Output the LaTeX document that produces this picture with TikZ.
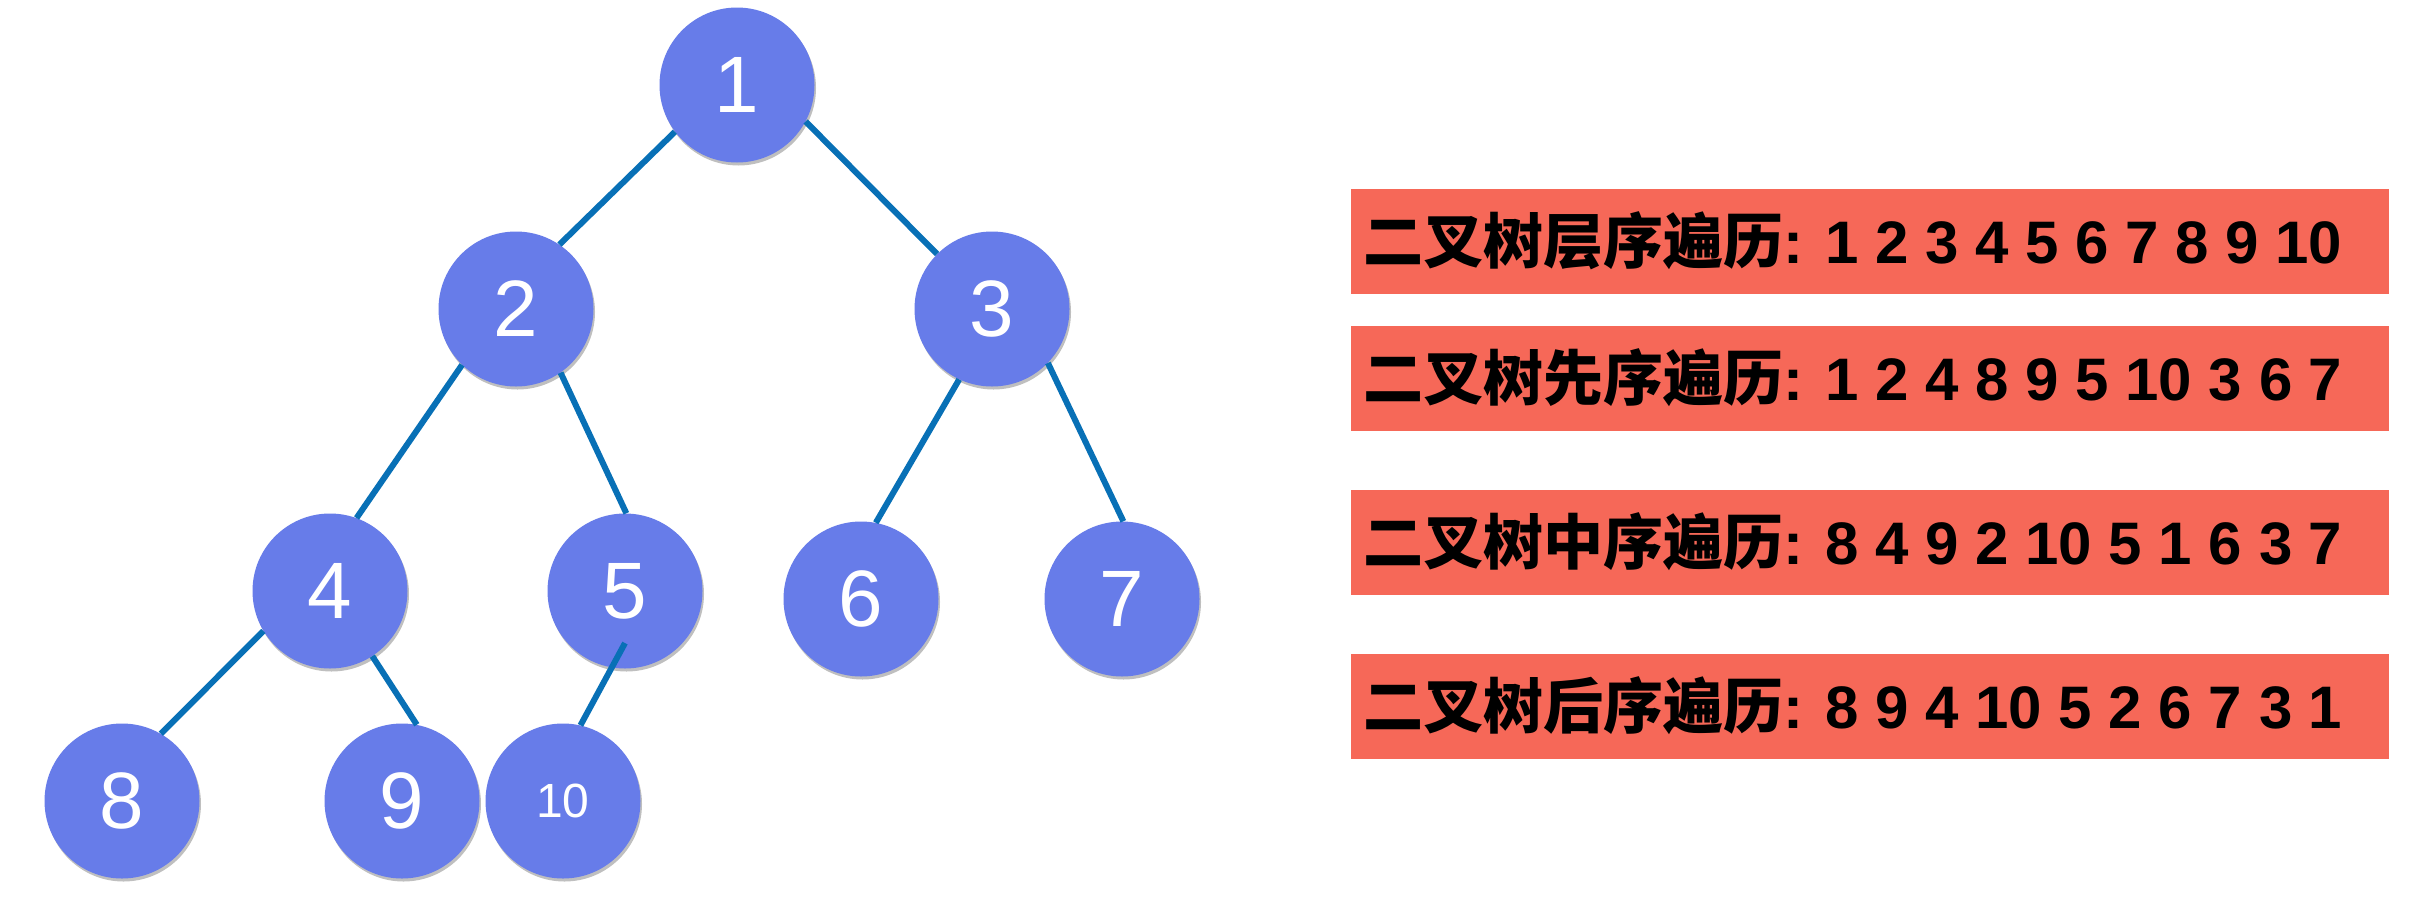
\documentclass[tikz,border=0pt]{standalone}
\usepackage{fontspec}
\setmainfont{Liberation Sans}
\newfontfamily\cjk{Noto Sans CJK SC}
\usetikzlibrary{shadows,calc}
\definecolor{nodeblue}{RGB}{103,124,233}
\definecolor{edgeblue}{RGB}{8,112,182}
\definecolor{boxred}{RGB}{246,104,88}
\begin{document}
\begin{tikzpicture}[x=1pt,y=-1pt,
  tn/.style={circle, minimum size=155pt, inner sep=0pt, fill=nodeblue, text=white,
    font=\fontsize{80}{80}\selectfont,
    drop shadow={shadow xshift=1.5pt, shadow yshift=-3pt, opacity=0.25, fill=black}},
  link/.style={draw=edgeblue, line width=6pt},
  tbox/.style={fill=boxred, draw=none},
  lbl/.style={anchor=base west, inner sep=0pt, font=\bfseries\fontsize{60}{60}\selectfont}
]
\useasboundingbox (0,0) rectangle (2412,900);
\fill[white] (0,0) rectangle (2412,900);
% nodes
\node[tn] (n1) at (737,85) {1};
\node[tn] (n2) at (516,309) {2};
\node[tn] (n3) at (992,309) {3};
\node[tn] (n4) at (330,591) {4};
\node[tn] (n5) at (625,591) {5};
\node[tn] (n6) at (861,599) {6};
\node[tn] (n7) at (1122,599) {7};
\node[tn] (n8) at (122,801) {8};
\node[tn] (n9) at (402,801) {9};
\node[tn, font=\fontsize{48}{48}\selectfont] (n10) at (563,801) {10};
% edges
\draw[link] (n1.-143) -- (n2.56);
\draw[link] (n1.-28.5) -- (n3.135.5);
\draw[link] (n2.-134) -- (n4.70.6);
\draw[link] (n2.-55) -- (n5.89);
\draw[link] (n3.-115) -- (n6.79.4);
\draw[link] (n3.-44) -- (n7.89);
\draw[link] (n4.-149) -- (n8.60);
\draw[link] (n4.-57) -- (n9.79);
\draw[link] ($(n5.center)!0.67!(n5.south)$) -- (n10.77);
% boxes
\fill[tbox] (1351,189) rectangle (2389,294);
\fill[tbox] (1351,326) rectangle (2389,431);
\fill[tbox] (1351,490) rectangle (2389,595);
\fill[tbox] (1351,654) rectangle (2389,759);
\node[lbl] (t1) at (1363,263.5) {{\cjk 二叉树层序遍历}: 1 2 3 4 5 6 7 8 9 10};
\node[lbl] (t2) at (1363,400.5) {{\cjk 二叉树先序遍历}: 1 2 4 8 9 5 10 3 6 7};
\node[lbl] (t3) at (1363,564.5) {{\cjk 二叉树中序遍历}: 8 4 9 2 10 5 1 6 3 7};
\node[lbl] (t4) at (1363,728.5) {{\cjk 二叉树后序遍历}: 8 9 4 10 5 2 6 7 3 1};
\end{tikzpicture}
\end{document}
